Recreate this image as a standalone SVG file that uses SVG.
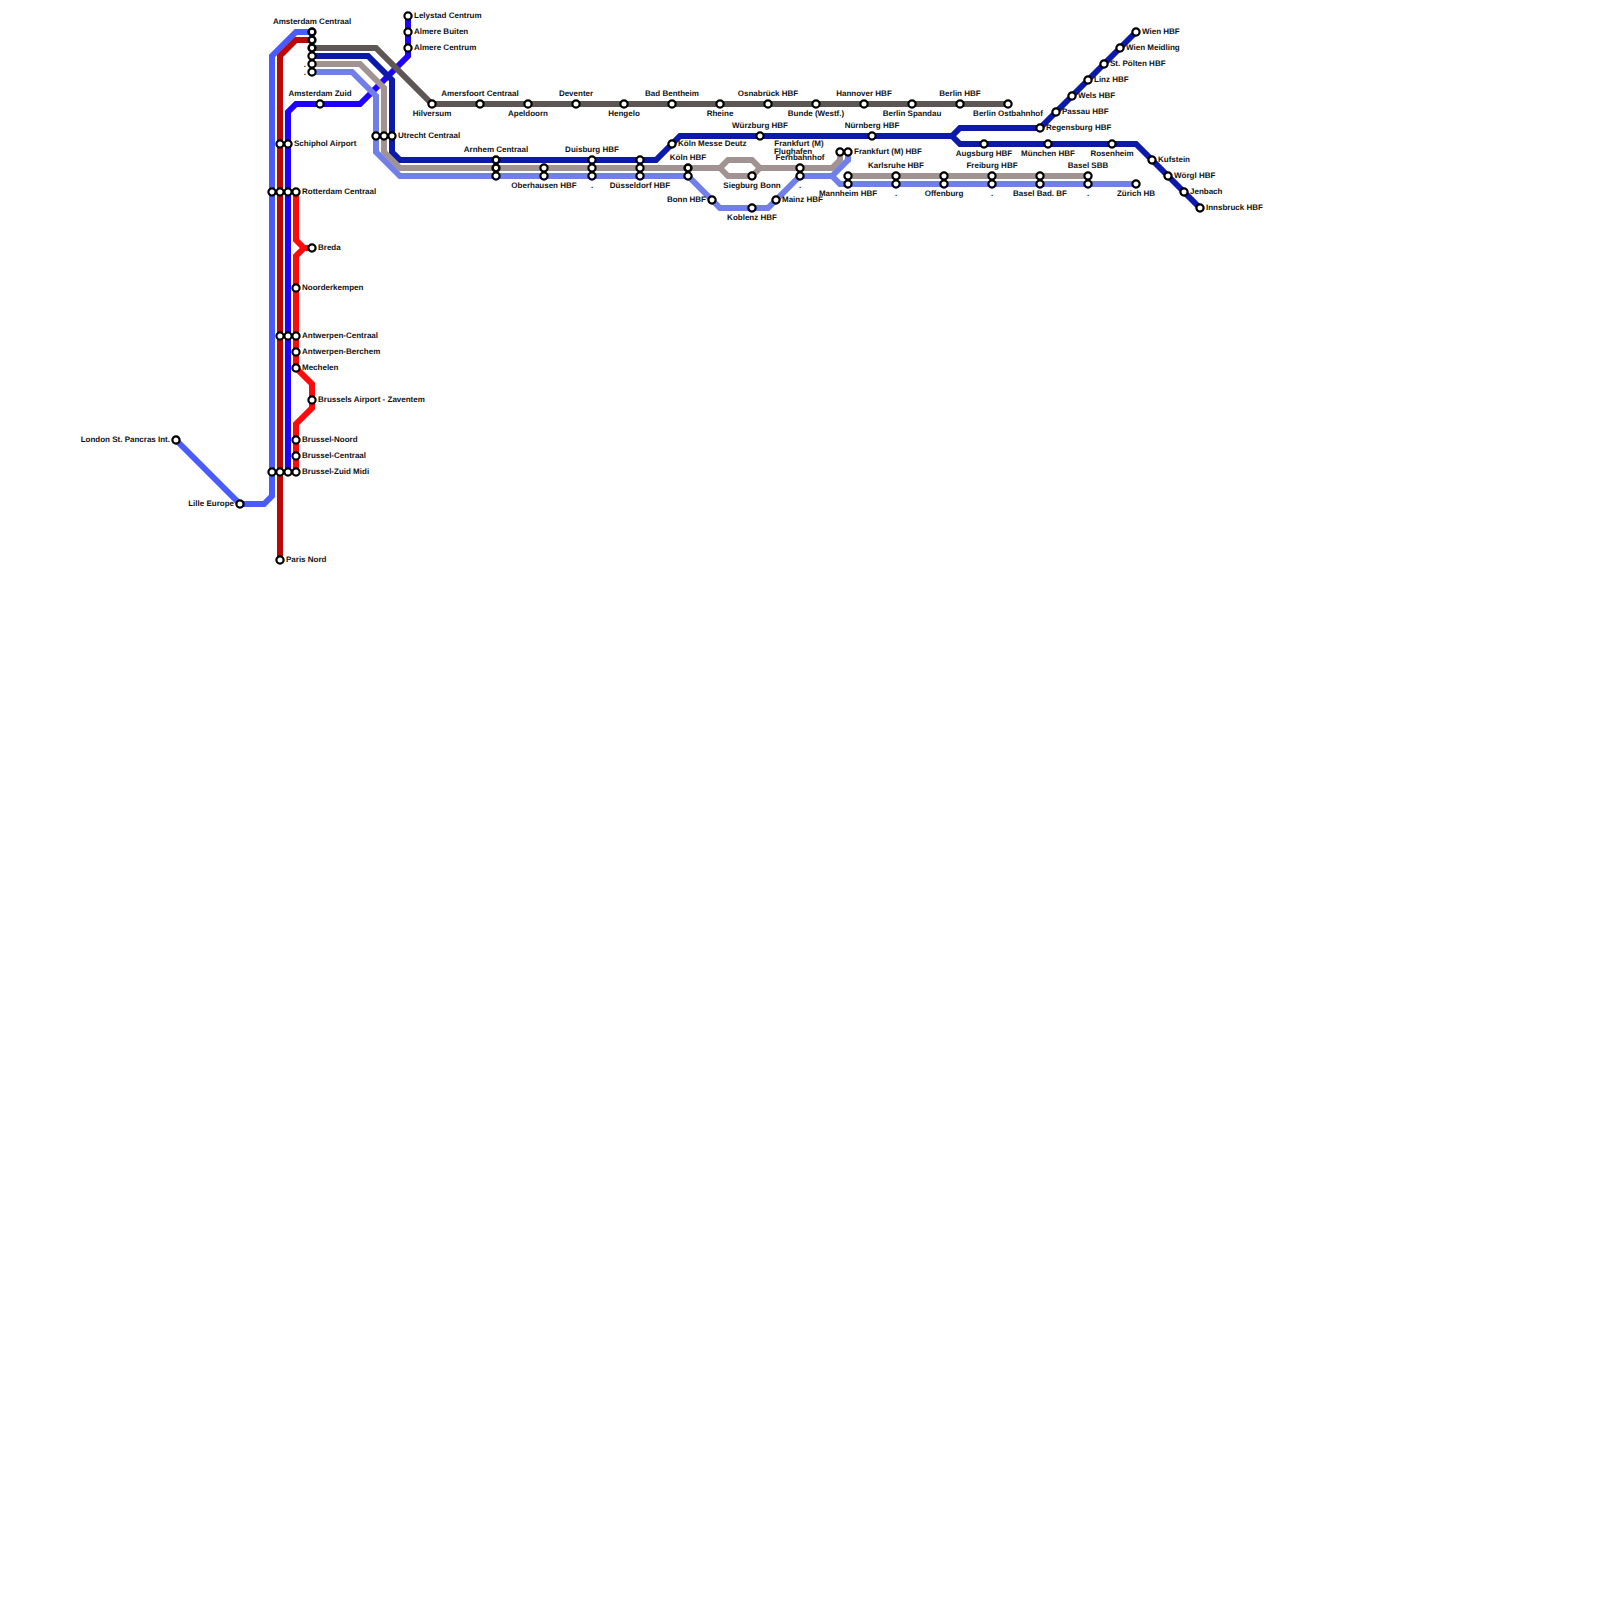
<svg xmlns="http://www.w3.org/2000/svg" width="1600" height="1600" viewBox="0 0 1600 1600">
<style>
text{font-family:"Liberation Sans",Arial,sans-serif;font-size:8px;font-weight:700;fill:#111;text-rendering:geometricPrecision}
.m{text-anchor:middle}.e{text-anchor:end}
#connectors path{fill:none;stroke-width:6;stroke-linejoin:miter}
.st{fill:#fff;stroke:#000;stroke-width:2.2}
.ss{fill:#fff;stroke:#000;stroke-width:2.5}
</style>
<rect width="1600" height="1600" fill="#fff"/>
<g id="connectors">
<path stroke="#2000ff" d="M408 16V56L360 104H296L288 112V472"/>
<path stroke="#4a5cff" d="M312 32H296L272 56V496L264 504H240L176 440"/>
<path stroke="#bd0606" d="M312 40H296L280 56V560"/>
<path stroke="#5e5654" d="M312 48H376L432 104H1008"/>
<path stroke="#0b1aa8" d="M312 56H368L392 80V152L400 160H656L680 136H952L960 128H1040L1136 32M952 136L960 144H1136L1200 208"/>
<path stroke="#a19391" d="M312 64H360L384 88V152L400 168H720L728 160H752L760 168H832L840 160V152M720 168L728 176H752L760 168M848 176H1088"/>
<path stroke="#7080e8" d="M312 72H352L376 96V152L400 176H688L720 208H768L800 176H832L848 160V152M832 176L840 184H1136"/>
<path stroke="#ff0a0a" d="M296 192V240L304 248H312H304L296 256V368L312 384V408L296 424V472"/>
</g>
<g id="stations">
<g id="london"><circle class="st" cx="176" cy="440" r="3.6"/><text class="e" x="170" y="442">London St. Pancras Int.</text></g>
<g id="lille"><circle class="st" cx="240" cy="504" r="3.6"/><text class="e" x="234" y="506">Lille Europe</text></g>
<g id="paris"><circle class="st" cx="280" cy="560" r="3.6"/><text x="286" y="562">Paris Nord</text></g>
<g id="amsterdam-c"><circle class="ss" cx="312" cy="32" r="3.4"/><circle class="ss" cx="312" cy="40" r="3.4"/><circle class="ss" cx="312" cy="48" r="3.4"/><circle class="st" cx="312" cy="56" r="3.6"/><circle class="st" cx="312" cy="64" r="3.6"/><circle class="st" cx="312" cy="72" r="3.6"/><text class="m" x="312" y="24">Amsterdam Centraal</text><text class="e" x="306" y="67">.</text><text class="e" x="306" y="75">.</text></g>
<g id="lelystad"><circle class="st" cx="408" cy="16" r="3.6"/><text x="414" y="18">Lelystad Centrum</text></g>
<g id="almere-b"><circle class="st" cx="408" cy="32" r="3.6"/><text x="414" y="34">Almere Buiten</text></g>
<g id="almere-c"><circle class="st" cx="408" cy="48" r="3.6"/><text x="414" y="50">Almere Centrum</text></g>
<g id="amsterdam-z"><circle class="st" cx="320" cy="104" r="3.6"/><text class="m" x="320" y="96">Amsterdam Zuid</text></g>
<g id="hilversum"><circle class="st" cx="432" cy="104" r="3.6"/><text class="m" x="432" y="116">Hilversum</text></g>
<g id="amersfoort"><circle class="st" cx="480" cy="104" r="3.6"/><text class="m" x="480" y="96">Amersfoort Centraal</text></g>
<g id="apeldoorn"><circle class="st" cx="528" cy="104" r="3.6"/><text class="m" x="528" y="116">Apeldoorn</text></g>
<g id="deventer"><circle class="st" cx="576" cy="104" r="3.6"/><text class="m" x="576" y="96">Deventer</text></g>
<g id="hengelo"><circle class="st" cx="624" cy="104" r="3.6"/><text class="m" x="624" y="116">Hengelo</text></g>
<g id="bentheim"><circle class="st" cx="672" cy="104" r="3.6"/><text class="m" x="672" y="96">Bad Bentheim</text></g>
<g id="rheine"><circle class="st" cx="720" cy="104" r="3.6"/><text class="m" x="720" y="116">Rheine</text></g>
<g id="osnabrueck"><circle class="st" cx="768" cy="104" r="3.6"/><text class="m" x="768" y="96">Osnabrück HBF</text></g>
<g id="bunde"><circle class="st" cx="816" cy="104" r="3.6"/><text class="m" x="816" y="116">Bunde (Westf.)</text></g>
<g id="hannover"><circle class="st" cx="864" cy="104" r="3.6"/><text class="m" x="864" y="96">Hannover HBF</text></g>
<g id="spandau"><circle class="st" cx="912" cy="104" r="3.6"/><text class="m" x="912" y="116">Berlin Spandau</text></g>
<g id="berlin"><circle class="st" cx="960" cy="104" r="3.6"/><text class="m" x="960" y="96">Berlin HBF</text></g>
<g id="ostbahnhof"><circle class="st" cx="1008" cy="104" r="3.6"/><text class="m" x="1008" y="116">Berlin Ostbahnhof</text></g>
<g id="schiphol"><circle class="st" cx="280" cy="144" r="3.6"/><circle class="st" cx="288" cy="144" r="3.6"/><text x="294" y="146">Schiphol Airport</text></g>
<g id="utrecht"><circle class="st" cx="376" cy="136" r="3.6"/><circle class="st" cx="384" cy="136" r="3.6"/><circle class="st" cx="392" cy="136" r="3.6"/><text x="398" y="138">Utrecht Centraal</text></g>
<g id="rotterdam"><circle class="st" cx="272" cy="192" r="3.6"/><circle class="st" cx="280" cy="192" r="3.6"/><circle class="st" cx="288" cy="192" r="3.6"/><circle class="st" cx="296" cy="192" r="3.6"/><text x="302" y="194">Rotterdam Centraal</text></g>
<g id="breda"><circle class="st" cx="312" cy="248" r="3.6"/><text x="318" y="250">Breda</text></g>
<g id="noorderkempen"><circle class="st" cx="296" cy="288" r="3.6"/><text x="302" y="290">Noorderkempen</text></g>
<g id="antwerpen-c"><circle class="st" cx="280" cy="336" r="3.6"/><circle class="st" cx="288" cy="336" r="3.6"/><circle class="st" cx="296" cy="336" r="3.6"/><text x="302" y="338">Antwerpen-Centraal</text></g>
<g id="berchem"><circle class="st" cx="296" cy="352" r="3.6"/><text x="302" y="354">Antwerpen-Berchem</text></g>
<g id="mechelen"><circle class="st" cx="296" cy="368" r="3.6"/><text x="302" y="370">Mechelen</text></g>
<g id="zaventem"><circle class="st" cx="312" cy="400" r="3.6"/><text x="318" y="402">Brussels Airport - Zaventem</text></g>
<g id="brussel-n"><circle class="st" cx="296" cy="440" r="3.6"/><text x="302" y="442">Brussel-Noord</text></g>
<g id="brussel-c"><circle class="st" cx="296" cy="456" r="3.6"/><text x="302" y="458">Brussel-Centraal</text></g>
<g id="brussel-z"><circle class="st" cx="272" cy="472" r="3.6"/><circle class="st" cx="280" cy="472" r="3.6"/><circle class="st" cx="288" cy="472" r="3.6"/><circle class="st" cx="296" cy="472" r="3.6"/><text x="302" y="474">Brussel-Zuid Midi</text></g>
<g id="arnhem"><circle class="ss" cx="496" cy="160" r="3.4"/><circle class="ss" cx="496" cy="168" r="3.4"/><circle class="st" cx="496" cy="176" r="3.6"/><text class="m" x="496" y="152">Arnhem Centraal</text></g>
<g id="oberhausen"><circle class="st" cx="544" cy="168" r="3.6"/><circle class="st" cx="544" cy="176" r="3.6"/><text class="m" x="544" y="188">Oberhausen HBF</text></g>
<g id="duisburg"><circle class="st" cx="592" cy="160" r="3.6"/><circle class="st" cx="592" cy="168" r="3.6"/><circle class="st" cx="592" cy="176" r="3.6"/><text class="m" x="592" y="152">Duisburg HBF</text><text class="m" x="592" y="188">.</text></g>
<g id="duesseldorf"><circle class="st" cx="640" cy="160" r="3.6"/><circle class="st" cx="640" cy="168" r="3.6"/><circle class="st" cx="640" cy="176" r="3.6"/><text class="m" x="640" y="188">Düsseldorf HBF</text></g>
<g id="koeln-deutz"><circle class="st" cx="672" cy="144" r="3.6"/><text x="678" y="146">Köln Messe Deutz</text></g>
<g id="koeln"><circle class="ss" cx="688" cy="168" r="3.4"/><circle class="st" cx="688" cy="176" r="3.6"/><text class="m" x="688" y="160">Köln HBF</text></g>
<g id="bonn"><circle class="st" cx="712" cy="200" r="3.6"/><text class="e" x="706" y="202">Bonn HBF</text></g>
<g id="siegburg"><circle class="st" cx="752" cy="176" r="3.6"/><text class="m" x="752" y="188">Siegburg Bonn</text></g>
<g id="koblenz"><circle class="st" cx="752" cy="208" r="3.6"/><text class="m" x="752" y="220">Koblenz HBF</text></g>
<g id="mainz"><circle class="st" cx="776" cy="200" r="3.6"/><text x="782" y="202">Mainz HBF</text></g>
<g id="wuerzburg"><circle class="st" cx="760" cy="136" r="3.6"/><text class="m" x="760" y="128">Würzburg HBF</text></g>
<g id="nuernberg"><circle class="st" cx="872" cy="136" r="3.6"/><text class="m" x="872" y="128">Nürnberg HBF</text></g>
<g id="fernbahnhof"><circle class="st" cx="800" cy="168" r="3.6"/><circle class="st" cx="800" cy="176" r="3.6"/><text class="m" x="799" y="146">Frankfurt (M)</text><text class="m" x="793" y="154">Flughafen</text><text class="m" x="800" y="160">Fernbahnhof</text><text class="m" x="800" y="188">.</text></g>
<g id="frankfurt"><circle class="st" cx="840" cy="152" r="3.6"/><circle class="st" cx="848" cy="152" r="3.6"/><text x="854" y="154">Frankfurt (M) HBF</text></g>
<g id="mannheim"><circle class="st" cx="848" cy="176" r="3.6"/><circle class="st" cx="848" cy="184" r="3.6"/><text class="m" x="848" y="196">Mannheim HBF</text></g>
<g id="karlsruhe"><circle class="st" cx="896" cy="176" r="3.6"/><circle class="st" cx="896" cy="184" r="3.6"/><text class="m" x="896" y="168">Karlsruhe HBF</text><text class="m" x="896" y="196">.</text></g>
<g id="offenburg"><circle class="st" cx="944" cy="176" r="3.6"/><circle class="st" cx="944" cy="184" r="3.6"/><text class="m" x="944" y="196">Offenburg</text></g>
<g id="freiburg"><circle class="st" cx="992" cy="176" r="3.6"/><circle class="st" cx="992" cy="184" r="3.6"/><text class="m" x="992" y="168">Freiburg HBF</text><text class="m" x="992" y="196">.</text></g>
<g id="basel-bad"><circle class="st" cx="1040" cy="176" r="3.6"/><circle class="st" cx="1040" cy="184" r="3.6"/><text class="m" x="1040" y="196">Basel Bad. BF</text></g>
<g id="basel"><circle class="st" cx="1088" cy="176" r="3.6"/><circle class="st" cx="1088" cy="184" r="3.6"/><text class="m" x="1088" y="168">Basel SBB</text><text class="m" x="1088" y="196">.</text></g>
<g id="zuerich"><circle class="st" cx="1136" cy="184" r="3.6"/><text class="m" x="1136" y="196">Zürich HB</text></g>
<g id="augsburg"><circle class="st" cx="984" cy="144" r="3.6"/><text class="m" x="984" y="156">Augsburg HBF</text></g>
<g id="muenchen"><circle class="st" cx="1048" cy="144" r="3.6"/><text class="m" x="1048" y="156">München HBF</text></g>
<g id="rosenheim"><circle class="st" cx="1112" cy="144" r="3.6"/><text class="m" x="1112" y="156">Rosenheim</text></g>
<g id="kufstein"><circle class="st" cx="1152" cy="160" r="3.6"/><text x="1158" y="162">Kufstein</text></g>
<g id="woergl"><circle class="st" cx="1168" cy="176" r="3.6"/><text x="1174" y="178">Wörgl HBF</text></g>
<g id="jenbach"><circle class="st" cx="1184" cy="192" r="3.6"/><text x="1190" y="194">Jenbach</text></g>
<g id="innsbruck"><circle class="st" cx="1200" cy="208" r="3.6"/><text x="1206" y="210">Innsbruck HBF</text></g>
<g id="regensburg"><circle class="st" cx="1040" cy="128" r="3.6"/><text x="1046" y="130">Regensburg HBF</text></g>
<g id="passau"><circle class="st" cx="1056" cy="112" r="3.6"/><text x="1062" y="114">Passau HBF</text></g>
<g id="wels"><circle class="st" cx="1072" cy="96" r="3.6"/><text x="1078" y="98">Wels HBF</text></g>
<g id="linz"><circle class="st" cx="1088" cy="80" r="3.6"/><text x="1094" y="82">Linz HBF</text></g>
<g id="stpoelten"><circle class="st" cx="1104" cy="64" r="3.6"/><text x="1110" y="66">St. Pölten HBF</text></g>
<g id="meidling"><circle class="st" cx="1120" cy="48" r="3.6"/><text x="1126" y="50">Wien Meidling</text></g>
<g id="wien"><circle class="st" cx="1136" cy="32" r="3.6"/><text x="1142" y="34">Wien HBF</text></g>
</g>
</svg>
